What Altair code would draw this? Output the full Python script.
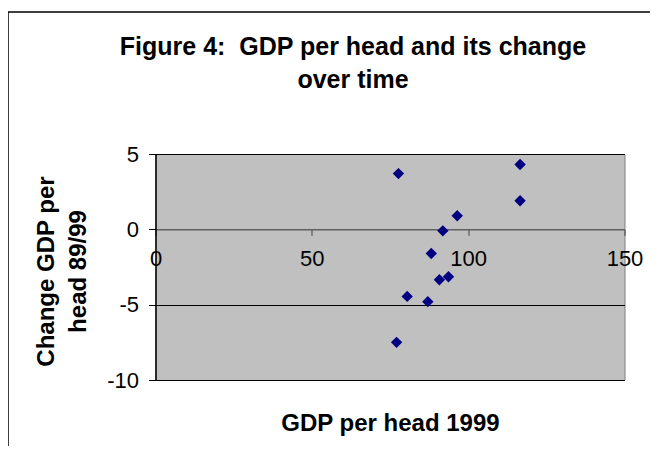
import altair as alt
import pandas as pd

# Data
gdp_1999 = [77.7, 116.6, 116.6, 96.5, 91.9, 88.2, 90.8, 93.7, 80.5, 87.1, 77.1]
change_89_99 = [3.7, 4.3, 1.9, 0.9, -0.1, -1.6, -3.35, -3.15, -4.45, -4.8, -7.5]

x_ticks = [0, 50, 100, 150]
y_ticks = [-10, -5, 0, 5]

title_lines = ["Figure 4:\u00a0 GDP per head and its change", "over time"]
x_title = "GDP per head 1999"
y_title = ["Change GDP per", "head 89/99"]

df = pd.DataFrame({"gdp": gdp_1999, "chg": change_89_99})

FONT = "Liberation Sans, Arial, sans-serif"
W, H = 469, 226

border = alt.Chart(alt.Data(values=[{}])).mark_rect(
    fill=None, stroke="black", strokeWidth=1.5, clip=False
).encode(
    x=alt.value(-147.5), x2=alt.value(620),
    y=alt.value(-142), y2=alt.value(420),
)

title1 = alt.Chart(alt.Data(values=[{}])).mark_text(
    text=title_lines[0], font=FONT, fontSize=25, fontWeight="bold",
    color="black", align="center", baseline="alphabetic", clip=False
).encode(x=alt.value(197.5), y=alt.value(-99))

title2 = alt.Chart(alt.Data(values=[{}])).mark_text(
    text=title_lines[1], font=FONT, fontSize=25, fontWeight="bold",
    color="black", align="center", baseline="alphabetic", clip=False
).encode(x=alt.value(197.5), y=alt.value(-66))

points = alt.Chart(df).mark_point(
    shape="diamond", filled=True, color="#000080", size=130, opacity=1
).encode(
    x=alt.X("gdp:Q", scale=alt.Scale(domain=[0, 150], nice=False, zero=False),
            axis=alt.Axis(values=x_ticks, offset=-H * 10 / 15, grid=False,
                          domainColor="#606060", domainWidth=1.5,
                          tickColor="#404040", tickSize=6, tickWidth=1,
                          labelFont=FONT, labelFontSize=22, labelColor="black",
                          labelPadding=13, labelFlush=False,
                          labelExpr="toString(datum.value)",
                          title=x_title, titleFont=FONT, titleFontSize=24,
                          titleFontWeight="bold", titleColor="black",
                          titleX=W / 2, titleY=201, titleBaseline="alphabetic",
                          titleAlign="center")),
    y=alt.Y("chg:Q", scale=alt.Scale(domain=[-10, 5], nice=False, zero=False),
            axis=alt.Axis(values=y_ticks, grid=True, gridColor="black",
                          gridWidth=1, gridOpacity=1,
                          domainColor="black", domainWidth=1.5,
                          tickColor="black", tickSize=7,
                          labelFont=FONT, labelFontSize=22, labelColor="black",
                          labelPadding=10,
                          labelExpr="toString(datum.value)",
                          title=y_title, titleFont=FONT, titleFontSize=24,
                          titleFontWeight="bold", titleColor="black",
                          titleAngle=270, titleAlign="center",
                          titleBaseline="alphabetic", titleLineHeight=32,
                          titleX=-102.5, titleY=117)),
)

chart = alt.layer(border, points, title1, title2).properties(
    width=W, height=H,
    padding={"left": 147.5, "top": 146, "right": 25, "bottom": 66},
    autosize=alt.AutoSizeParams(type="none"),
).configure(
    background="white",
    view=alt.ViewConfig(fill="#C0C0C0", stroke="#808080", strokeWidth=1),
)

chart.save("out.html", embed_options={"renderer": "svg", "actions": False})
